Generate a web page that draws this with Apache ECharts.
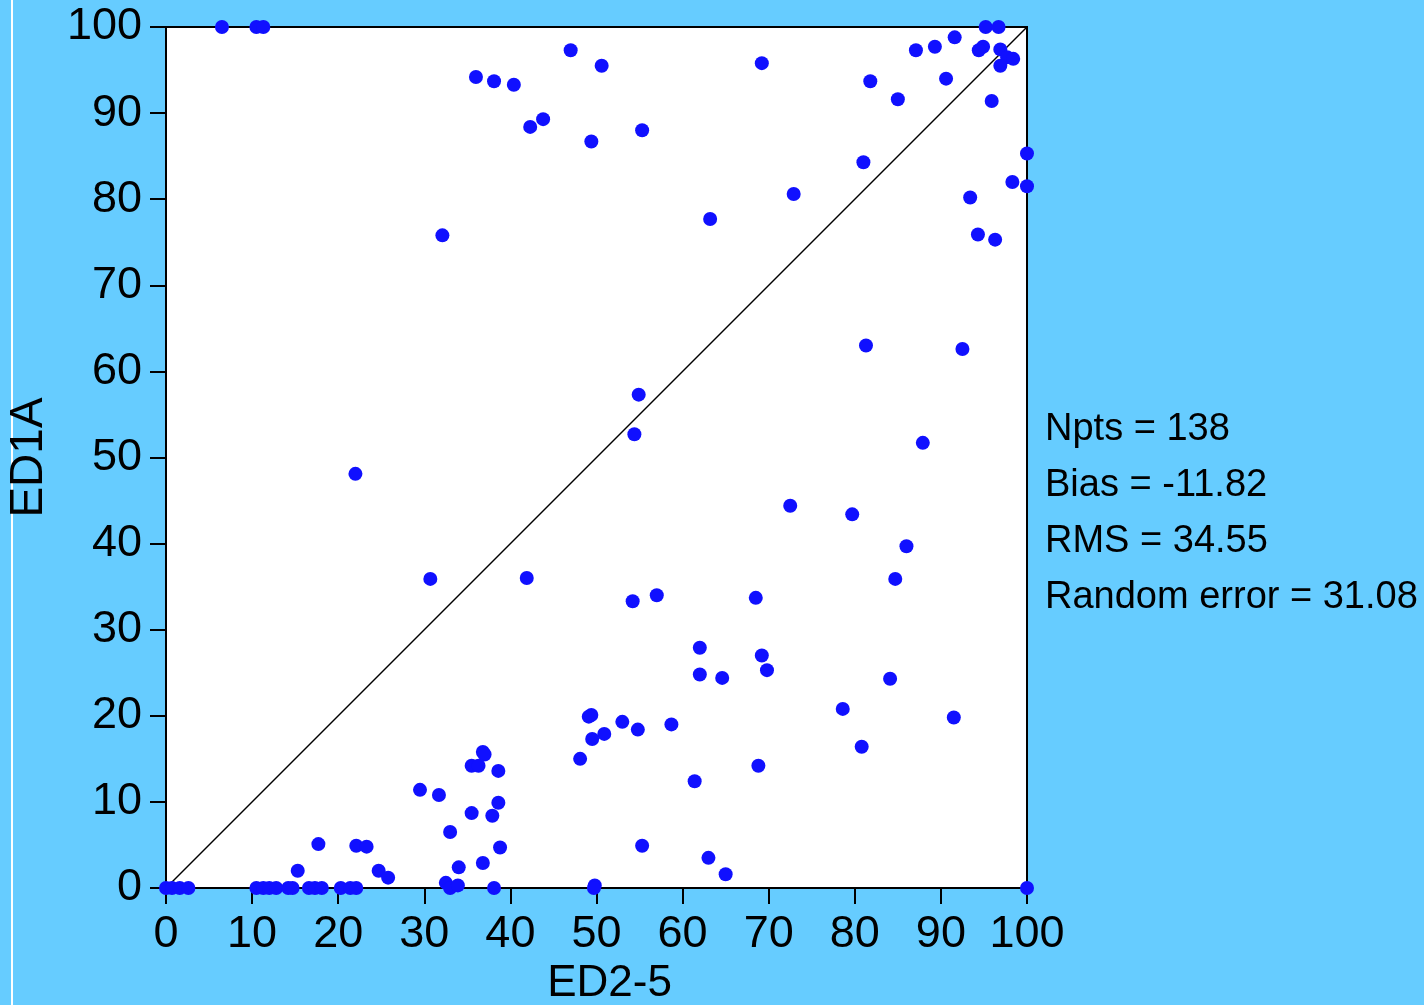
<!DOCTYPE html>
<html>
<head>
<meta charset="utf-8">
<title>ED1A vs ED2-5</title>
<script src="https://cdn.jsdelivr.net/npm/echarts@6/dist/echarts.min.js"></script>
<style>
  html, body { margin: 0; padding: 0; background: #66ccff; }
  #chart { width: 1424px; height: 1005px; }
</style>
</head>
<body>
<div id="chart"></div>
<script>
// x values (ED2-5)
const edX = [
  6.5, 10.5, 11.3, 36, 38.1, 40.4, 42.3, 43.8, 47, 50.6,
  49.4, 55.3, 69.2, 81.8, 81, 85, 87.1, 89.3, 90.6, 91.6,
  95.2, 96.7, 94.9, 94.4, 96.9, 97.7, 98.4, 96.9, 95.9, 100,
  98.3, 100, 93.4, 94.3, 96.3, 32.1, 63.2, 72.9, 81.3, 92.5,
  54.9, 54.4, 87.9, 22, 72.5, 79.7, 86, 30.7, 41.9, 84.7,
  54.2, 57, 68.5, 62, 69.2, 69.8, 62, 64.6, 84.1, 78.6,
  91.5, 80.8, 58.7, 54.8, 53, 49.1, 49.4, 50.9, 49.5, 48.1,
  36.8, 37, 35.5, 36.3, 38.6, 29.5, 31.7, 38.6, 35.5, 37.9,
  33, 38.8, 36.8, 34, 61.4, 68.8, 55.3, 63, 65, 49.8,
  49.7, 100, 17.7, 22.1, 23.3, 15.3, 24.7, 25.8, 32.5, 33,
  33.9, 38.1, 0, 0.7, 1.6, 2.6, 10.5, 11.3, 12, 12.8,
  14.2, 14.7, 16.6, 17.3, 18.1, 20.3, 21.4, 22.1
];
// y values (ED1A), same order
const edY = [
  100, 100, 100, 94.2, 93.7, 93.3, 88.4, 89.3, 97.3, 95.5,
  86.7, 88, 95.8, 93.7, 84.3, 91.6, 97.3, 97.7, 94, 98.8,
  100, 100, 97.7, 97.3, 97.4, 96.5, 96.3, 95.5, 91.4, 85.3,
  82, 81.5, 80.2, 75.9, 75.3, 75.8, 77.7, 80.6, 63, 62.6,
  57.3, 52.7, 51.7, 48.1, 44.4, 43.4, 39.7, 35.9, 36, 35.9,
  33.3, 34, 33.7, 27.9, 27, 25.3, 24.8, 24.4, 24.3, 20.8,
  19.8, 16.4, 19, 18.4, 19.3, 19.9, 20.1, 17.9, 17.3, 15,
  15.8, 15.5, 14.2, 14.2, 13.6, 11.4, 10.8, 9.9, 8.7, 8.4,
  6.5, 4.7, 2.9, 2.4, 12.4, 14.2, 4.9, 3.5, 1.6, 0.3,
  0, 0, 5.1, 4.9, 4.8, 2, 2, 1.2, 0.6, 0,
  0.3, 0, 0, 0, 0, 0, 0, 0, 0, 0,
  0, 0, 0, 0, 0, 0, 0, 0
];
const oneToOne = [[0, 0], [100, 100]];
const statsLines = ['Npts = 138', 'Bias = -11.82', 'RMS = 34.55', 'Random error = 31.08'];

const points = edX.map((x, i) => [x, edY[i]]);
const font = '"Liberation Sans", Arial, sans-serif';

const chart = echarts.init(document.getElementById('chart'));

const option = {
  backgroundColor: '#66ccff',
  animation: false,
  grid: {
    left: 166, right: 397, top: 27, bottom: 117,
    show: true,
    backgroundColor: '#ffffff',
    borderColor: '#000',
    borderWidth: 2,
    containLabel: false,
    outerBoundsMode: 'none'
  },
  xAxis: {
    type: 'value',
    min: 0, max: 100, interval: 10,
    name: 'ED2-5',
    nameLocation: 'middle',
    nameGap: 74,
    nameTextStyle: { color: '#000', fontSize: 44, fontFamily: font, padding: [0, 0, 0, 26] },
    axisLine: { lineStyle: { color: '#000', width: 2 } },
    axisTick: { inside: false, length: 16, lineStyle: { color: '#000', width: 2 } },
    axisLabel: { color: '#000', fontSize: 45, fontFamily: font, margin: 24, showMinLabel: true, showMaxLabel: true },
    splitLine: { show: false }
  },
  yAxis: {
    type: 'value',
    min: 0, max: 100, interval: 10,
    name: 'ED1A',
    nameLocation: 'middle',
    nameGap: 114,
    nameRotate: 90,
    nameTextStyle: { color: '#000', fontSize: 46, fontFamily: font },
    axisLine: { lineStyle: { color: '#000', width: 2 } },
    axisTick: { inside: false, length: 16, lineStyle: { color: '#000', width: 2 } },
    axisLabel: { color: '#000', fontSize: 45, fontFamily: font, margin: 24, showMinLabel: true, showMaxLabel: true },
    splitLine: { show: false }
  },
  series: [
    {
      type: 'line',
      data: oneToOne,
      symbol: 'none',
      z: 1,
      lineStyle: { color: '#000', width: 1.5 },
      silent: true
    },
    {
      type: 'scatter',
      data: points,
      symbolSize: 14,
      clip: false,
      z: 3,
      itemStyle: { color: '#1010ff', opacity: 1 }
    }
  ],
  graphic: [
    { type: 'rect', left: 11, top: 0, shape: { width: 2, height: 1005 }, style: { fill: '#ffffff' } }
  ].concat(statsLines.map((t, i) => ({
    type: 'text',
    left: 1045,
    top: 428 + i * 56 - 17,
    style: { text: t, fill: '#000', font: '38px ' + font }
  })))
};

chart.setOption(option);
</script>
</body>
</html>
